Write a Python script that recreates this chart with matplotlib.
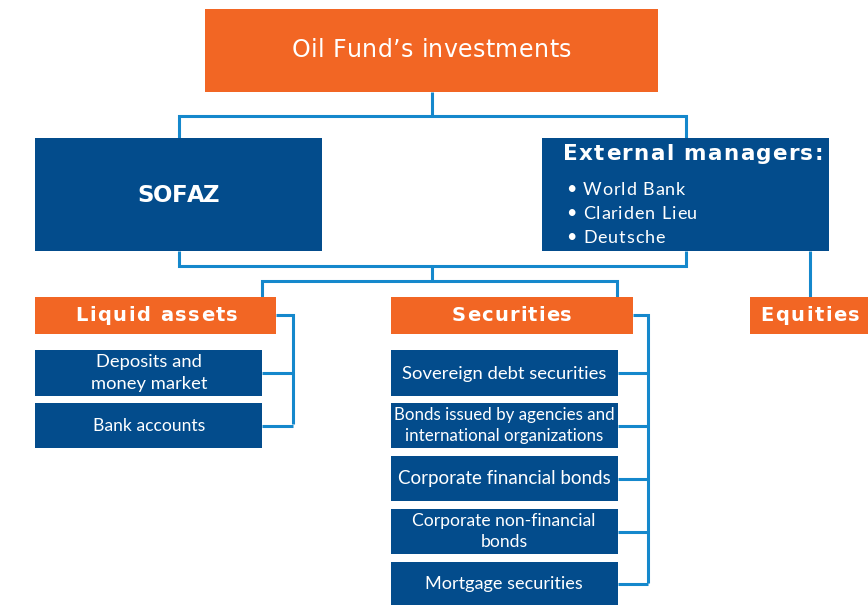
import matplotlib
matplotlib.use("Agg")
import matplotlib.pyplot as plt
from matplotlib.patches import Rectangle
from matplotlib.font_manager import findfont, FontProperties
from matplotlib.ft2font import FT2Font

ORANGE = "#F26624"
DARK = "#034C8C"
LINE = "#1588CC"

# ---- data (labels) ----
root_label = "Oil Fund’s investments"
level1_labels = ["SOFAZ", "External managers:"]
external_managers = ["World Bank", "Clariden Lieu", "Deutsche"]
category_labels = ["Liquid assets", "Securities", "Equities"]
liquid_items = ["Deposits and\nmoney market", "Bank accounts"]
securities_items = ["Sovereign debt securities",
                    "Bonds issued by agencies and\ninternational organizations",
                    "Corporate financial bonds",
                    "Corporate non-financial\nbonds",
                    "Mortgage securities"]

FONT = "Lato"
HEAD = "DejaVu Sans"
DPI = 100

fig = plt.figure(figsize=(8.68, 6.05), dpi=DPI)
ax = fig.add_axes([0, 0, 1, 1])
ax.set_xlim(0, 868)
ax.set_ylim(605, 0)
ax.axis("off")


def advances(s, size, weight, family):
    f = FT2Font(findfont(FontProperties(family=family, weight=weight)))
    f.set_size(size, DPI)
    return [f.load_char(ord(c)).linearHoriAdvance / 65536 for c in s]


def spaced(x, baseline, s, size, weight="bold", ha="center", width=None,
           spacing=0.0, family=FONT):
    adv = advances(s, size, weight, family)
    if width is not None and len(s) > 1:
        spacing = (width - sum(adv)) / (len(s) - 1)
    total = sum(adv) + spacing * (len(s) - 1)
    pos = x - total / 2 if ha == "center" else x
    for c, a in zip(s, adv):
        ax.text(pos, baseline, c, color="white", fontsize=size, ha="left",
                va="baseline", family=family, fontweight=weight, zorder=3)
        pos += a + spacing


def box(x0, y0, x1, y1, color):
    ax.add_patch(Rectangle((x0, y0), x1 - x0, y1 - y0, facecolor=color,
                           edgecolor="none", zorder=2))


def line(xs, ys):
    ax.plot(xs, ys, color=LINE, lw=2.2, solid_joinstyle="miter",
            solid_capstyle="butt", zorder=1)


# root
box(205, 9, 658, 92, ORANGE)
spaced(431.5, 57, root_label, 17, weight="normal", width=279, family=HEAD)

# connectors root -> level1
line([432, 432], [92, 116])
line([179, 179, 686, 686], [138, 116, 116, 138])

# level1 boxes
box(35, 138, 322, 251, DARK)
spaced(178.5, 202, level1_labels[0], 16.5, weight="bold", width=83,
       family=HEAD)
box(542, 138, 829, 251, DARK)
spaced(563, 160, level1_labels[1], 15.5, weight="bold", ha="left", width=260,
       family=HEAD)
for i, name in enumerate(external_managers):
    b = 195 + 24 * i
    ax.text(571, b - 6.5, "•", color="white", fontsize=13, ha="center",
            va="center", family=FONT, zorder=3)
    spaced(583, b, name, 13, weight="normal", ha="left", spacing=0.9)

# connectors level1 -> categories
line([179, 179, 686, 686], [251, 266, 266, 251])
line([432, 432], [266, 281])
line([262, 262, 617, 617], [297, 281, 281, 297])
line([810, 810], [251, 297])

# categories
cat_boxes = [(35, 276), (391, 633), (750, 868)]
cat_text = [(156.5, 163), (512, 120), (810, 100)]
for (x0, x1), (cx, w), lab in zip(cat_boxes, cat_text, category_labels):
    box(x0, 297, x1, 334, ORANGE)
    spaced(cx, 321, lab, 14, weight="bold", width=w, family=HEAD)


def item_text(cx, ym, lab, size):
    lines = lab.split("\n")
    if len(lines) == 1:
        bases = [ym + 5.5]
    else:
        bases = [ym + 5 - 10.5, ym + 5 + 10.5]
    for ln, b in zip(lines, bases):
        ax.text(cx, b, ln, color="white", fontsize=size, ha="center",
                va="baseline", family=FONT, zorder=3)


# liquid assets items
liq_rows = [(350, 396), (403, 448)]
liq_sizes = [13.2, 12.6]
line([276, 293, 293], [315, 315, 424])
for (y0, y1), lab, sz in zip(liq_rows, liquid_items, liq_sizes):
    box(35, y0, 262, y1, DARK)
    ym = (y0 + y1) / 2
    line([262, 293], [ym, ym])
    item_text(149, ym, lab, sz)

# securities items
sec_rows = [(350, 396), (403, 448), (456, 501), (509, 554), (562, 605)]
sec_sizes = [13.3, 12.2, 13.5, 12.6, 13.1]
line([633, 648, 648], [315, 315, 583])
for (y0, y1), lab, sz in zip(sec_rows, securities_items, sec_sizes):
    box(391, y0, 618, y1, DARK)
    ym = (y0 + y1) / 2
    line([618, 648], [ym, ym])
    item_text(504, ym, lab, sz)

fig.savefig("out.png", dpi=DPI)
